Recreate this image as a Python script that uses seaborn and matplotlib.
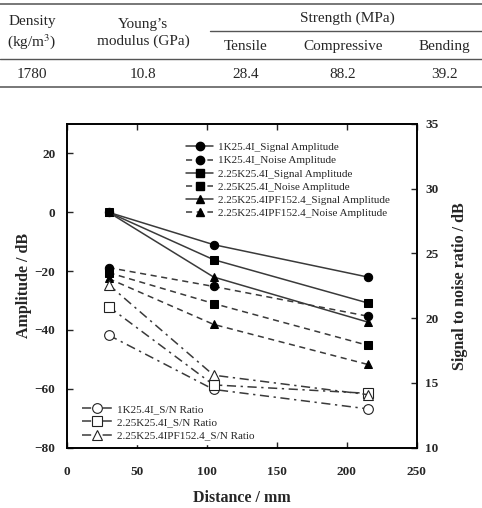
import numpy as np
import pandas as pd
import matplotlib
matplotlib.use("Agg")
import matplotlib.pyplot as plt
from matplotlib.lines import Line2D
import seaborn as sns

# table data
table_heads = ["Density\n(kg/m$^3$)", "Young\u2019s\nmodulus (GPa)"]
strength_heads = ["Tensile", "Compressive", "Bending"]
table_values = ["1780", "10.8", "28.4", "88.2", "39.2"]

# chart data
distance = [30, 105, 215]
sig_1k = [0, -11, -22]
noise_1k = [-18.8, -25.2, -35.3]
sig_225 = [0, -16.1, -30.8]
noise_225 = [-20.5, -31, -45.2]
sig_ipf = [0, -22, -37.3]
noise_ipf = [-22.5, -38.1, -51.7]
sn_1k = [18.7, 14.5, 13.0]
sn_225 = [20.9, 14.85, 14.2]
sn_ipf = [22.6, 15.6, 14.1]

sns.set_theme(style="ticks")
plt.rcParams['font.family'] = ['Liberation Serif', 'DejaVu Serif']
plt.rcParams['mathtext.fontset'] = 'stix'

fig = plt.figure(figsize=(4.82, 5.08), dpi=100)
W, H = 482, 508

def fx(x):
    return x / W

def fy(y):
    return 1 - y / H

# table rules
rule = dict(color='#777777', lw=1.4, transform=fig.transFigure)
fig.add_artist(Line2D([0, 1], [fy(4), fy(4)], **rule))
fig.add_artist(Line2D([fx(210), 1], [fy(31), fy(31)], color='#555555', lw=1.0, transform=fig.transFigure))
fig.add_artist(Line2D([0, 1], [fy(59), fy(59)], color='#555555', lw=1.0, transform=fig.transFigure))
fig.add_artist(Line2D([0, 1], [fy(87), fy(87)], **rule))

tfs = 11
col_x = [32, 143, 246, 343, 444]
fig.text(fx(col_x[0]), fy(33), table_heads[0], ha='center', va='center', fontsize=tfs, linespacing=1.35)
fig.text(fx(col_x[1]), fy(33), table_heads[1], ha='center', va='center', fontsize=tfs, linespacing=1.35)
fig.text(fx(347), fy(18), "Strength (MPa)", ha='center', va='center', fontsize=tfs)
for x, h in zip(col_x[2:], strength_heads):
    fig.text(fx(x), fy(46), h, ha='center', va='center', fontsize=tfs)
for x, v in zip(col_x, table_values):
    fig.text(fx(x), fy(74), v, ha='center', va='center', fontsize=tfs)

# chart
ax = fig.add_axes([fx(66.5), fy(447.7), fx(416.7 - 66.5), (447.7 - 124) / H])
ax2 = ax.twinx()

lc = '#3a3a3a'
dash = (0, (4, 3))
dashdot = (0, (6, 3, 1.5, 3))
amp_series = [
    (sig_1k, 'o', '-', '1K25.4I_Signal Amplitude'),
    (noise_1k, 'o', dash, '1K25.4I_Noise Amplitude'),
    (sig_225, 's', '-', '2.25K25.4I_Signal Amplitude'),
    (noise_225, 's', dash, '2.25K25.4I_Noise Amplitude'),
    (sig_ipf, '^', '-', '2.25K25.4IPF152.4_Signal Amplitude'),
    (noise_ipf, '^', dash, '2.25K25.4IPF152.4_Noise Amplitude'),
]
h1 = []
for vals, m, ls, lab in amp_series:
    sns.lineplot(x=distance, y=vals, ax=ax, color=lc, linestyle=ls, lw=1.1,
                 marker=m, markersize=6, markerfacecolor='black',
                 markeredgecolor='black', legend=False)
    h1.append(Line2D([], [], color=lc, linestyle=ls, lw=1.1, marker=m, markersize=6,
                     markerfacecolor='black', markeredgecolor='black', label=lab))

sn_series = [
    (sn_1k, 'o', '1K25.4I_S/N Ratio'),
    (sn_225, 's', '2.25K25.4I_S/N Ratio'),
    (sn_ipf, '^', '2.25K25.4IPF152.4_S/N Ratio'),
]
h2 = []
for vals, m, lab in sn_series:
    sns.lineplot(x=distance, y=vals, ax=ax2, color=lc, linestyle=dashdot, lw=1.1,
                 marker=m, markersize=7, markerfacecolor='white',
                 markeredgecolor='#222222', markeredgewidth=0.8, legend=False)
    h2.append(Line2D([], [], color=lc, linestyle=dashdot, lw=1.1, marker=m, markersize=7,
                     markerfacecolor='white', markeredgecolor='#222222',
                     markeredgewidth=0.8, label=lab))

ax.set_xlim(0, 250)
ax.set_ylim(-80, 30)
ax2.set_ylim(10, 35)
ax.set_xticks([0, 50, 100, 150, 200, 250])
ax.set_yticks([-80, -60, -40, -20, 0, 20])
ax2.set_yticks([10, 15, 20, 25, 30, 35])

ax.tick_params(axis='x', direction='in', top=True, length=4, width=1, pad=13, labelsize=9.5)
ax.tick_params(axis='y', direction='in', length=4, width=1, pad=8, labelsize=9.5)
ax2.tick_params(axis='y', direction='in', length=4, width=1, pad=6, labelsize=9.5)
for lbl in ax.get_xticklabels() + ax.get_yticklabels() + ax2.get_yticklabels():
    lbl.set_fontweight('bold')

for a in (ax, ax2):
    for s in a.spines.values():
        s.set_linewidth(1.2)
        s.set_color('black')
        s.set_visible(True)

ax.set_xlabel('Distance / mm', fontsize=11.5, fontweight='bold', labelpad=9)
ax.set_ylabel('Amplitude / dB', fontsize=11.5, fontweight='bold', labelpad=2)
ax2.set_ylabel('Signal to noise ratio / dB', fontsize=11.5, fontweight='bold', labelpad=10)

leg1 = ax2.legend(handles=h1, loc='upper left', bbox_to_anchor=(0.315, 0.97),
                  fontsize=8, frameon=True, facecolor='white', edgecolor='white',
                  framealpha=1, handlelength=2.5, handletextpad=0.4,
                  labelspacing=0.3, borderpad=0.3)
ax2.add_artist(leg1)
ax2.legend(handles=h2, loc='lower left', bbox_to_anchor=(0.02, -0.005),
           fontsize=8, frameon=True, facecolor='white', edgecolor='white',
           framealpha=1, handlelength=2.7, handletextpad=0.4,
           labelspacing=0.3, borderpad=0.3)

fig.savefig('out.png', dpi=100)
